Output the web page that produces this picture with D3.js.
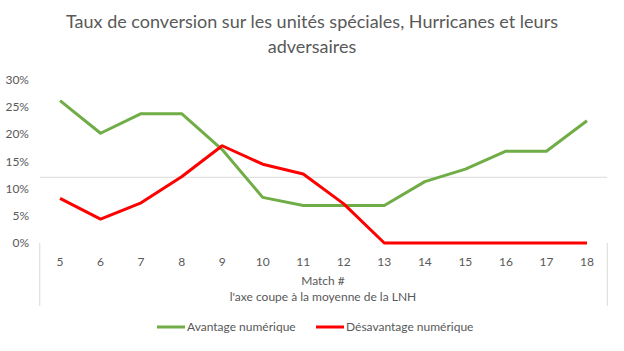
<!DOCTYPE html>
<html><head><meta charset="utf-8">
<script src="https://cdn.jsdelivr.net/npm/d3@7"></script>
<style>body{margin:0;background:#fff;} text{font-family:Lato, "Open Sans", sans-serif;}</style>
</head><body><svg id="c" width="624" height="351"></svg>
<script>
const matches = ["5","6","7","8","9","10","11","12","13","14","15","16","17","18"];
const avantage = [26.2,20.2,23.8,23.8,17.2,8.4,6.9,6.9,6.9,11.3,13.6,16.9,16.9,22.5];
const desavantage = [8.2,4.4,7.4,12.2,17.9,14.5,12.7,7.2,0,0,0,0,0,0];
const yTicks = [0,5,10,15,20,25,30];
const crossValue = 12.1;
const titleLines = ["Taux de conversion sur les unités spéciales, Hurricanes et leurs","adversaires"];
const axisTitleLines = ["Match #","l'axe coupe à la moyenne de la LNH"];
const seriesNames = ["Avantage numérique","Désavantage numérique"];
const colors = ["#70AD47","#FF0000"];

const svg = d3.select("#c");
const x = d3.scaleBand().domain(matches).range([39.75,607.25]);
const y = d3.scaleLinear().domain([0,30]).range([243,80]);
const grey = "#595959";

svg.append("g").selectAll("text").data(titleLines).join("text")
  .attr("x",312).attr("y",(d,i)=>28+i*25).attr("text-anchor","middle")
  .attr("font-size",18).attr("fill",grey).text(d=>d);

svg.append("g").selectAll("text").data(yTicks).join("text")
  .attr("x",29).attr("y",d=>y(d)+4).attr("text-anchor","end")
  .attr("font-size",12).attr("fill",grey).text(d=>d+"%");

// category axis crossing at LNH average
svg.append("line").attr("x1",x.range()[0]).attr("x2",x.range()[1])
  .attr("y1",y(crossValue)).attr("y2",y(crossValue)).attr("stroke","#d9d9d9").attr("stroke-width",1);
[x.range()[0], x.range()[1]].forEach(xx=>{
  svg.append("line").attr("x1",xx).attr("x2",xx).attr("y1",243).attr("y2",306)
    .attr("stroke","#d9d9d9").attr("stroke-width",1);
});

svg.append("g").selectAll("text").data(matches).join("text")
  .attr("x",d=>x(d)+x.bandwidth()/2).attr("y",266).attr("text-anchor","middle")
  .attr("font-size",12).attr("fill",grey).text(d=>d);

svg.append("g").selectAll("text").data(axisTitleLines).join("text")
  .attr("x",323).attr("y",(d,i)=>285+i*16).attr("text-anchor","middle")
  .attr("font-size",12).attr("fill",grey).text(d=>d);

const line = d3.line().x((d,i)=>x(matches[i])+x.bandwidth()/2).y(d=>y(d));
[avantage,desavantage].forEach((s,k)=>{
  svg.append("path").datum(s).attr("d",line).attr("fill","none")
    .attr("stroke",colors[k]).attr("stroke-width",3).attr("stroke-linejoin","round");
});

const legX = [157,316];
seriesNames.forEach((n,k)=>{
  svg.append("line").attr("x1",legX[k]).attr("x2",legX[k]+28).attr("y1",327).attr("y2",327)
    .attr("stroke",colors[k]).attr("stroke-width",3);
  svg.append("text").attr("x",legX[k]+30).attr("y",331).attr("font-size",12).attr("fill",grey).text(n);
});
</script></body></html>
